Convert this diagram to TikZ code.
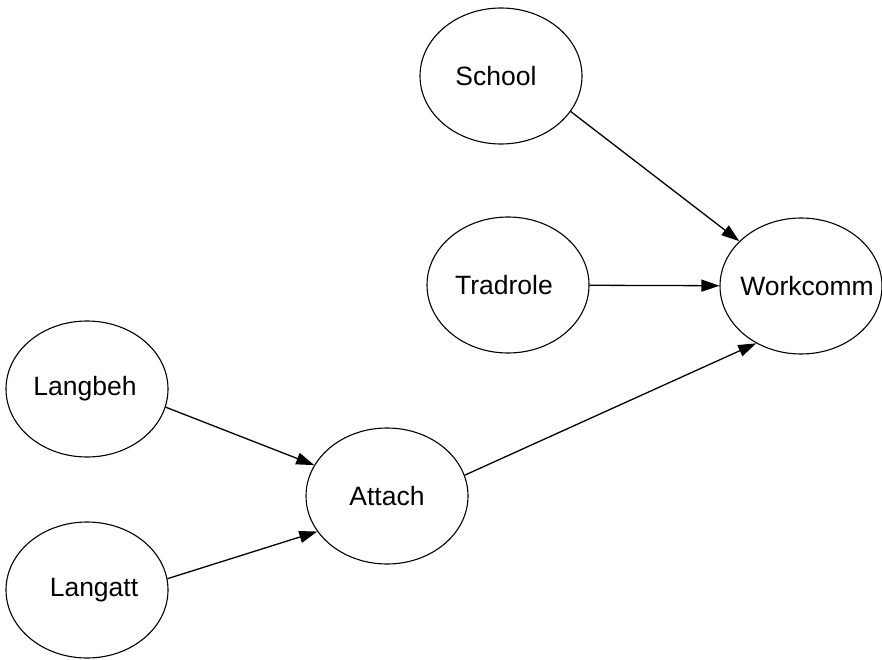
\documentclass[tikz,border=0pt]{standalone}
\usepackage{fontspec}
\setmainfont{Liberation Sans}
\usetikzlibrary{arrows.meta,shapes.geometric}
\newcommand{\shiftedtext}[2]{\makebox[0pt]{\hspace*{#1}\hspace*{#1}#2}}
\begin{document}
\begin{tikzpicture}[x=1pt,y=-1pt,
  var/.style={draw, ellipse, line width=1.1pt, minimum width=162pt, minimum height=136pt, inner sep=0pt, font=\fontsize{26.5}{30}\selectfont},
  edge/.style={draw, line width=1.3pt, -{Triangle[length=18pt,width=12pt]}}]
\useasboundingbox (0,0) rectangle (882,660);
\node[var] (School)   at (501,76)  {\shiftedtext{-5pt}{School}};
\node[var] (Tradrole) at (508,285) {\shiftedtext{-4pt}{Tradrole}};
\node[var] (Workcomm) at (801,286) {\shiftedtext{6pt}{Workcomm}};
\node[var] (Langbeh)  at (87,389)  {\shiftedtext{-2pt}{Langbeh}};
\node[var] (Attach)   at (387,496) {\shiftedtext{0pt}{Attach}};
\node[var] (Langatt)  at (87,590)  {\shiftedtext{7pt}{Langatt}};
\draw[edge] (School.333) -- (Workcomm.144);
\draw[edge] (Tradrole) -- (Workcomm);
\draw[edge] (Attach.15) -- (Workcomm.232);
\draw[edge] (Langbeh.347) -- (Attach.157);
\draw[edge] (Langatt.8) -- (Attach.207);
\end{tikzpicture}
\end{document}
